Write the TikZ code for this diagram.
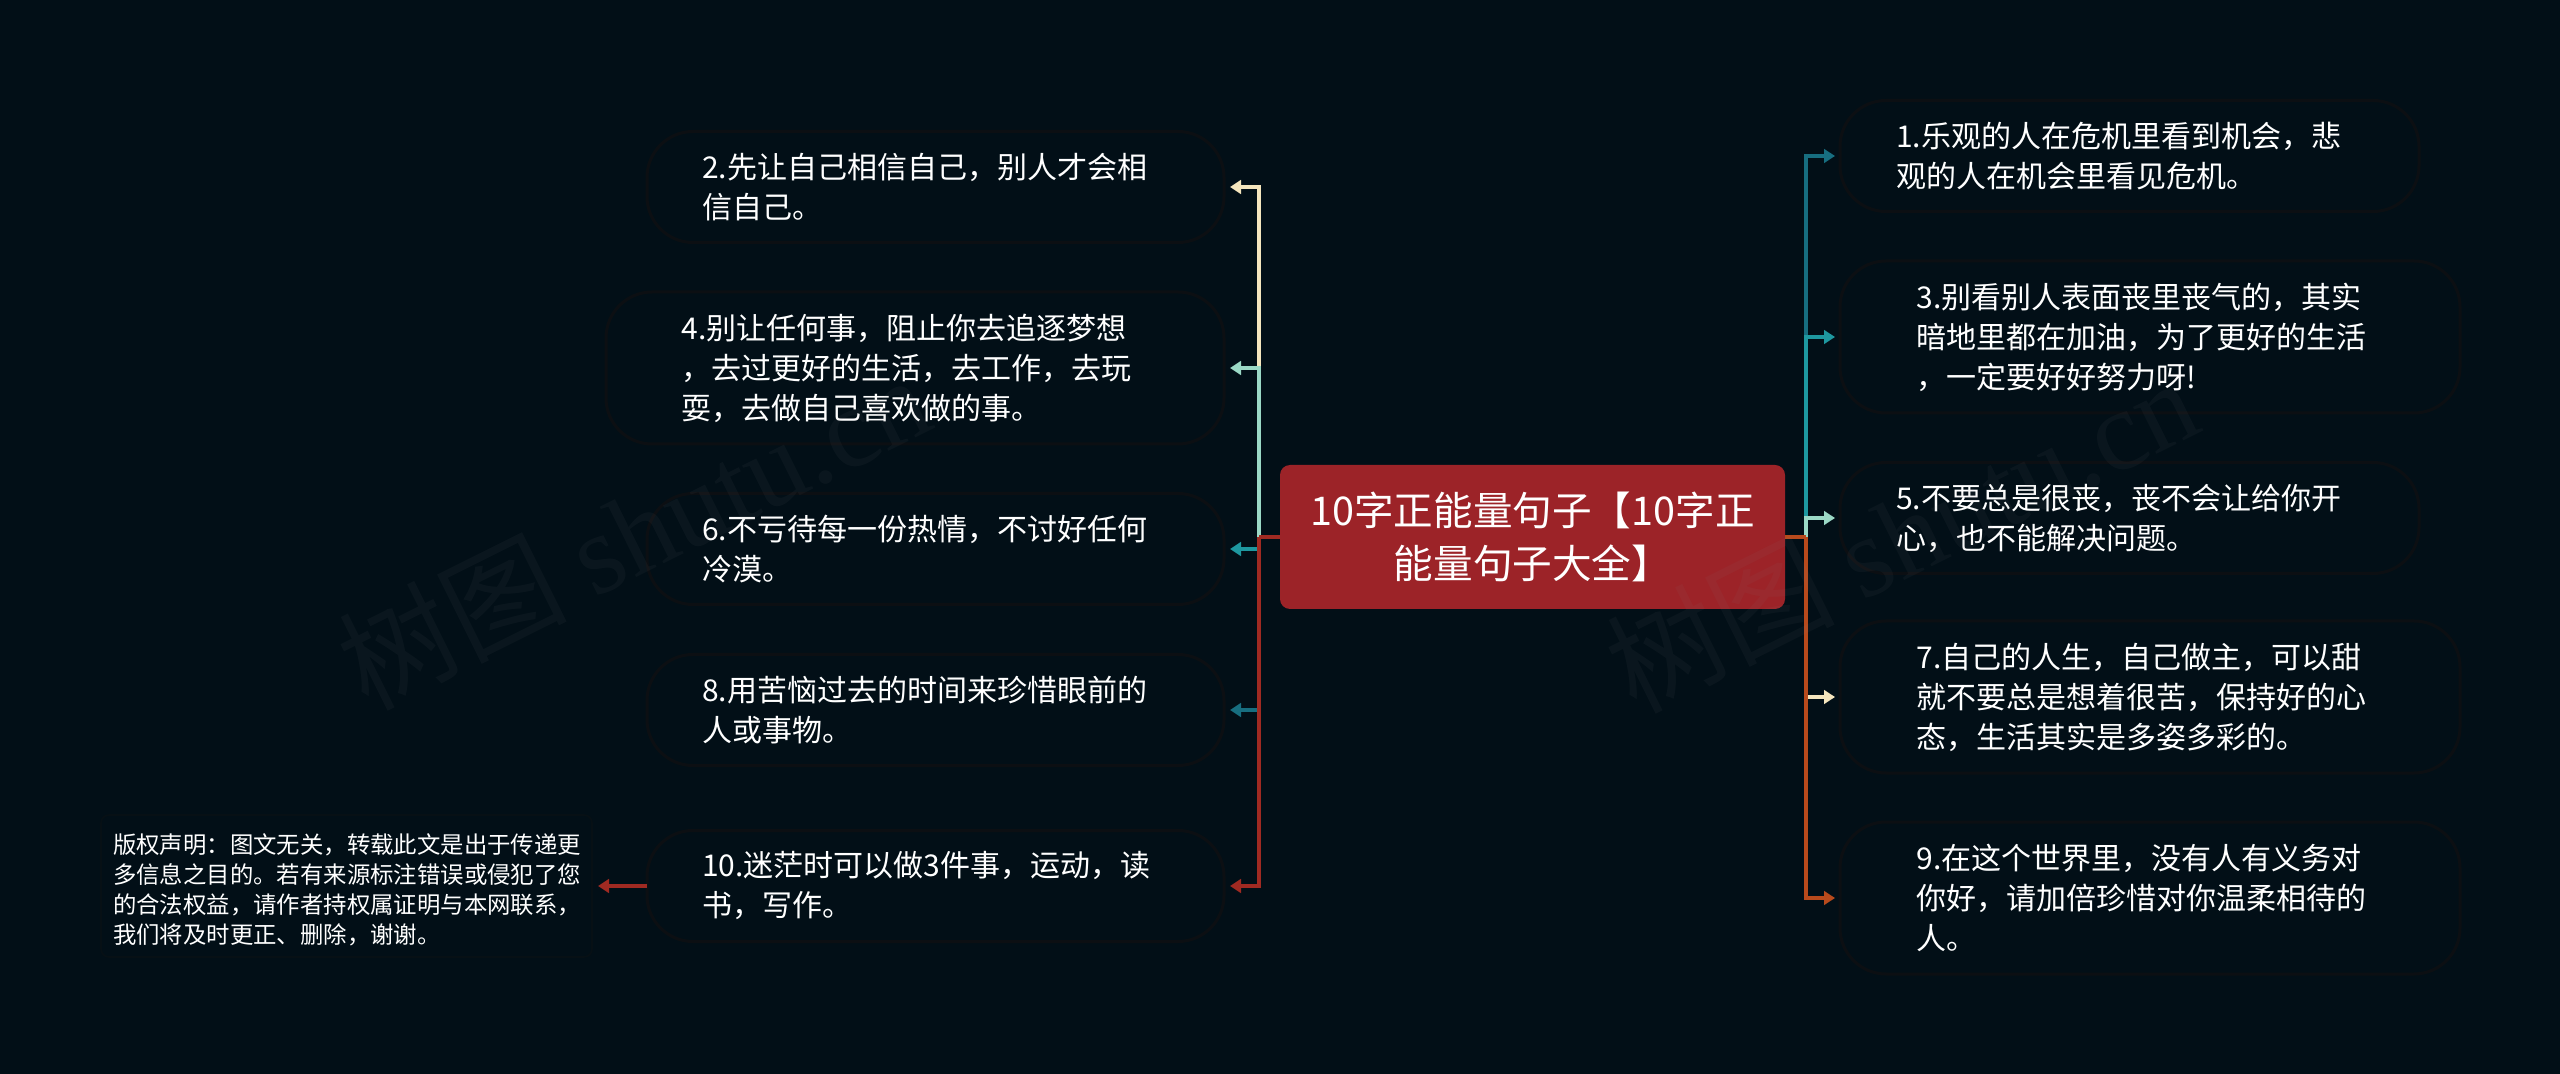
\documentclass[tikz,border=0pt]{standalone}
\usepackage{fontspec}
\setmainfont{Noto Sans CJK SC}
\newfontfamily\wmlatin{Liberation Serif}
\usetikzlibrary{arrows.meta}
\definecolor{bgc}{HTML}{020F17}
\definecolor{edgec}{HTML}{0C0F13}
\definecolor{discedge}{HTML}{071015}
\definecolor{rootc}{HTML}{9C2328}
\definecolor{creamc}{HTML}{F5E6BE}
\definecolor{mintc}{HTML}{9BD9C6}
\definecolor{tealc}{HTML}{1E98A0}
\definecolor{deepc}{HTML}{176E80}
\definecolor{redc}{HTML}{A02A22}
\definecolor{orangec}{HTML}{B84A1C}
\tikzset{
  leaf/.style={draw=edgec,line width=1.5pt,fill=bgc,rounded corners=23pt,text=white,outer sep=0pt,inner sep=0pt,
    align=left,text width=233.2pt,font=\fontsize{15pt}{20pt}\selectfont},
  rshort/.style={leaf,minimum width=289.5pt,minimum height=55.5pt},
  rtall/.style={leaf,minimum width=310pt,minimum height=76pt},
  lshort/.style={leaf,minimum width=288.5pt,minimum height=55.5pt},
  ltall/.style={leaf,minimum width=309pt,minimum height=76pt},
  rootbox/.style={fill=rootc,rounded corners=5pt,text=white,outer sep=0pt,inner sep=0pt,align=center,
    minimum width=252.5pt,minimum height=72pt,font=\fontsize{19.8pt}{26.5pt}\selectfont},
  discbox/.style={draw=discedge,line width=.8pt,fill=bgc,rounded corners=4pt,text=white,outer sep=0pt,inner sep=0pt,
    align=left,text width=233.5pt,minimum width=245.5pt,minimum height=71pt,font=\fontsize{11.7pt}{15pt}\selectfont},
  conn/.style={line width=1.7pt,-{Triangle[length=5.5pt,width=6.8pt]}},
  rconn/.style={conn,shorten >=2.5pt},
  lconn/.style={conn,shorten >=3pt},
  stem/.style={line width=1.7pt},
  wmark/.style={anchor=west,rotate=26.5,text=gray,text opacity=.07,font=\fontsize{57pt}{60pt}\selectfont,inner sep=0pt}
}
\begin{document}
\begin{tikzpicture}[x=.5pt,y=-.5pt]
\useasboundingbox (0,0) rectangle (2560,1074);
\fill[bgc] (0,0) rectangle (2560,1074);

\node[rootbox] (root) at (1532.5,537) {10字正能量句子【10字正\\能量句子大全】};

\node[rshort] (r1) at (2129.5,156) {1.乐观的人在危机里看到机会，悲\\观的人在机会里看见危机。};
\node[rtall] (r3) at (2150,337) {3.别看别人表面丧里丧气的，其实\\暗地里都在加油，为了更好的生活\\，一定要好好努力呀!};
\node[rshort] (r5) at (2129.5,518) {5.不要总是很丧，丧不会让给你开\\心，也不能解决问题。};
\node[rtall] (r7) at (2150,697) {7.自己的人生，自己做主，可以甜\\就不要总是想着很苦，保持好的心\\态，生活其实是多姿多彩的。};
\node[rtall] (r9) at (2150,898) {9.在这个世界里，没有人有义务对\\你好，请加倍珍惜对你温柔相待的\\人。};

\node[lshort] (l2) at (935.5,187) {2.先让自己相信自己，别人才会相\\信自己。};
\node[ltall] (l4) at (915,368) {4.别让任何事，阻止你去追逐梦想\\，去过更好的生活，去工作，去玩\\耍，去做自己喜欢做的事。};
\node[lshort] (l6) at (935.5,549) {6.不亏待每一份热情，不讨好任何\\冷漠。};
\node[lshort] (l8) at (935.5,710) {8.用苦恼过去的时间来珍惜眼前的\\人或事物。};
\node[lshort] (l10) at (935.5,886) {10.迷茫时可以做3件事，运动，读\\书，写作。};

\node[discbox] (disc) at (346.5,886) {\rule{0pt}{13.3pt}版权声明：图文无关，转载此文是出于传递更\\多信息之目的。若有来源标注错误或侵犯了您\\的合法权益，请作者持权属证明与本网联系，\\我们将及时更正、删除，谢谢。};

\coordinate (rj) at (1806,537);
\coordinate (lj) at (1259,537);

\draw[rconn,deepc] (rj) |- (r1.west);
\draw[rconn,tealc] (rj) |- (r3.west);
\draw[rconn,mintc] (rj) |- (r5.west);
\draw[rconn,creamc] (rj) |- (r7.west);
\draw[rconn,orangec] (rj) |- (r9.west);
\draw[stem,orangec] (root.east) -- (rj);

\draw[lconn,creamc] (lj) |- (l2.east);
\draw[lconn,mintc] (lj) |- (l4.east);
\draw[lconn,tealc] (lj) |- (l6.east);
\draw[lconn,deepc] (lj) |- (l8.east);
\draw[lconn,redc] (lj) |- (l10.east);
\draw[stem,redc] (root.west) -- (lj);

\draw[conn,redc,shorten >=3pt] (l10.west) -- (disc.east);

\node[wmark] (wm1) at (348,673) {树图 {\wmlatin shutu.cn}};
\node[wmark] (wm2) at (1616,676) {树图 {\wmlatin shutu.cn}};
\end{tikzpicture}
\end{document}
